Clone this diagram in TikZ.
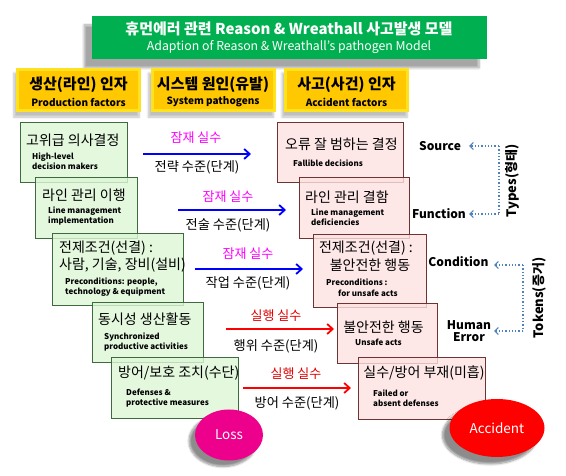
\documentclass[tikz,border=0pt]{standalone}
\usepackage{fontspec}
\setmainfont{Noto Sans CJK KR}
\usetikzlibrary{shadows.blur,arrows.meta,shapes.geometric}
\definecolor{titlegreen}{HTML}{00B050}
\definecolor{hdrgold}{HTML}{FFC800}
\definecolor{hdrrim}{HTML}{FFE21F}
\definecolor{gfill}{HTML}{DDF6D6}
\definecolor{gline}{HTML}{3F6A3F}
\definecolor{pfill}{HTML}{FDE1E1}
\definecolor{pline}{HTML}{6E3434}
\definecolor{dotblue}{HTML}{4F81BD}
\definecolor{latmag}{HTML}{FF00FF}
\definecolor{exred}{HTML}{E00000}
\newcommand\kfnt{\fontsize{14}{16}\selectfont}
\newcommand\smfnt{\fontsize{8}{9.5}\selectfont\bfseries}
\tikzset{
  gbox/.style={draw=gline, fill=gfill, fill opacity=0.8, line width=0.9pt, inner sep=0pt},
  pbox/.style={draw=pline, fill=pfill, fill opacity=0.8, line width=0.9pt, inner sep=0pt},
  hbox/.style={fill=hdrrim, inner sep=0pt, blur shadow={shadow xshift=-2pt, shadow yshift=-5pt, shadow blur steps=6, shadow opacity=25}},
  hcore/.style={fill=hdrgold, inner sep=0pt},
  txt/.style={inner sep=0pt, anchor=west},
  ctxt/.style={inner sep=0pt},
  blueArr/.style={draw=blue, line width=2.6pt, -{Straight Barb[length=5.5pt,width=10pt,line width=1.8pt]}},
  redArr/.style={draw=red, line width=2.6pt, -{Straight Barb[length=5.5pt,width=10pt,line width=1.8pt]}},
  dotArr/.style={draw=dotblue, line width=1.3pt, dotted, -{Straight Barb[length=3.5pt,width=7pt,line width=1.2pt]}},
  dotLine/.style={draw=dotblue, line width=1.3pt, dotted},
  lat/.style={ctxt, text=latmag, font=\fontsize{13}{15}\selectfont},
  exe/.style={ctxt, text=exred, font=\fontsize{13}{15}\selectfont},
  lvl/.style={ctxt, font=\fontsize{13.2}{15}\selectfont},
  rlab/.style={ctxt, font=\fontsize{12}{13}\selectfont\bfseries, align=center},
}
\begin{document}
\begin{tikzpicture}[x=1pt,y=-1pt]
\useasboundingbox (0,0) rectangle (566,476);

% title
\node[fill=titlegreen, minimum width=395pt, minimum height=43pt, inner sep=0pt,
  blur shadow={shadow xshift=-8pt, shadow yshift=-9pt, shadow blur steps=8, shadow opacity=35}] (title) at (289.5,37.5) {};
\node[ctxt, text=white, font=\fontsize{15}{17}\selectfont\bfseries] (t1) at (289,29) {휴먼에러 관련 Reason \& Wreathall 사고발생 모델};
\node[ctxt, text=white, font=\fontsize{12.3}{14}\selectfont] (t2) at (289,47) {Adaption of Reason \& Wreathall's pathogen Model};

% headers
\foreach \n/\cx/\ko/\en in {h1/78.5/생산(라인) 인자/Production factors, h2/213/시스템 원인(유발)/System pathogens, h3/346.5/사고(사건) 인자/Accident factors}{
  \node[hbox, minimum width=125pt, minimum height=44pt] (\n) at (\cx,90) {};
  \node[hcore, minimum width=119pt, minimum height=38pt] (\n c) at (\cx,90) {};
  \node[ctxt, font=\fontsize{15}{17}\selectfont\bfseries] (\n k) at (\cx,84.5) {\ko};
  \node[ctxt, font=\fontsize{10}{12}\selectfont\bfseries] (\n e) at (\cx,102) {\en};
}

% green boxes
\node[gbox, minimum width=107pt, minimum height=60pt] (g1) at (73.5,152) {};
\node[gbox, minimum width=102pt, minimum height=61pt] (g2) at (86,207.5) {};
\node[gbox, minimum width=131pt, minimum height=72pt] (g3) at (117.5,269) {};
\node[gbox, minimum width=111pt, minimum height=60pt] (g4) at (147.5,332) {};
\node[gbox, minimum width=127pt, minimum height=61pt] (g5) at (174.5,387.5) {};

\node[txt, font=\kfnt] (g1k) at (26,140) {고위급 의사결정};
\node[txt, font=\smfnt, align=left] (g1e) at (32,161) {High-level\\decision makers};
\node[txt, font=\kfnt] (g2k) at (42,195) {라인 관리 이행};
\node[txt, font=\smfnt, align=left] (g2e) at (48,216) {Line management\\implementation};
\node[txt, font=\kfnt] (g3k) at (59,248) {전제조건(선결) :};
\node[txt, font=\kfnt] (g3k2) at (59,265) {사람, 기술, 장비(설비)};
\node[txt, font=\smfnt, align=left] (g3e) at (65,287) {Preconditions: people,\\technology \& equipment};
\node[txt, font=\kfnt] (g4k) at (98,319) {동시성 생산활동};
\node[txt, font=\smfnt, align=left] (g4e) at (104,342) {Synchronized\\productive activities};
\node[txt, font=\kfnt] (g5k) at (118,373) {방어/보호 조치(수단)};
\node[txt, font=\smfnt, align=left] (g5e) at (126,398) {Defenses \&\\protective measures};

% pink boxes
\node[pbox, minimum width=126pt, minimum height=60pt] (p1) at (340,152) {};
\node[pbox, minimum width=110pt, minimum height=61pt] (p2) at (354,207.5) {};
\node[pbox, minimum width=113pt, minimum height=73pt] (p3) at (369.5,270.5) {};
\node[pbox, minimum width=100pt, minimum height=60pt] (p4) at (387,333) {};
\node[pbox, minimum width=127pt, minimum height=62pt] (p5) at (421.5,388) {};

\node[txt, font=\kfnt] (p1k) at (285,144) {오류 잘 범하는 결정};
\node[txt, font=\smfnt] (p1e) at (293,163) {Fallible decisions};
\node[txt, font=\kfnt] (p2k) at (305,197) {라인 관리 결함};
\node[txt, font=\smfnt, align=left] (p2e) at (311,217) {Line management\\deficiencies};
\node[ctxt, font=\kfnt] (p3k) at (366,248) {전제조건(선결) :};
\node[ctxt, font=\kfnt] (p3k2) at (370,265) {불안전한 행동};
\node[txt, font=\smfnt] (p3e) at (326,282) {Preconditions :};
\node[txt, font=\smfnt] (p3e2) at (338,293) {for unsafe acts};
\node[ctxt, font=\kfnt] (p4k) at (383.5,327) {불안전한 행동};
\node[txt, font=\smfnt] (p4e) at (355,342) {Unsafe acts};
\node[ctxt, font=\kfnt] (p5k) at (424,373) {실수/방어 부재(미흡)};
\node[txt, font=\smfnt, align=left] (p5e) at (373,398) {Failed or\\absent defenses};

% arrows
\coordinate (a1s) at (143,154); \coordinate (a1e) at (251,154);
\coordinate (a2s) at (178,210); \coordinate (a2e) at (286,210);
\coordinate (a3s) at (195,269); \coordinate (a3e) at (303,269);
\coordinate (a4s) at (226,329); \coordinate (a4e) at (334,329);
\coordinate (a5s) at (243,388); \coordinate (a5e) at (351,388);
\draw[blueArr] (a1s) -- (a1e);
\draw[blueArr] (a2s) -- (a2e);
\draw[blueArr] (a3s) -- (a3e);
\draw[redArr] (a4s) -- (a4e);
\draw[redArr] (a5s) -- (a5e);

\node[lat] (l1) at (196,138) {잠재 실수};
\node[lvl] (v1) at (197,167) {전략 수준(단계)};
\node[lat] (l2) at (228,197) {잠재 실수};
\node[lvl] (v2) at (228,225) {전술 수준(단계)};
\node[lat] (l3) at (248,254) {잠재 실수};
\node[lvl] (v3) at (248,283) {작업 수준(단계)};
\node[exe] (l4) at (276,316) {실행 실수};
\node[lvl] (v4) at (276,346) {행위 수준(단계)};
\node[exe] (l5) at (296,374) {실행 실수};
\node[lvl] (v5) at (297,403) {방어 수준(단계)};

% ellipses
\node[ellipse, fill=magenta, minimum width=68pt, minimum height=51pt, inner sep=0pt,
  text=white, font=\fontsize{13.5}{15}\selectfont,
  blur shadow={shadow xshift=-6pt, shadow yshift=-6pt, shadow blur steps=8, shadow opacity=45}] (loss) at (229,435) {Loss};
\node[ellipse, fill=red, minimum width=95pt, minimum height=58pt, inner sep=0pt,
  text=white, font=\fontsize{13.5}{15}\selectfont,
  blur shadow={shadow xshift=-7pt, shadow yshift=-7pt, shadow blur steps=8, shadow opacity=45}] (acc) at (497,428) {Accident};

% right labels
\node[rlab] (src) at (440,146) {Source};
\node[rlab] (fun) at (439,214) {Function};
\node[rlab] (cond) at (458.5,262) {Condition};
\node[rlab] (herr) at (469,331) {Human\\[-1pt]Error};

\coordinate (tyA) at (499,146); \coordinate (tyB) at (499,214);
\coordinate (tyAe) at (469,146); \coordinate (tyBe) at (469,214);
\draw[dotLine] (tyA) -- (tyB);
\draw[dotArr] (tyA) -- (tyAe);
\draw[dotArr] (tyB) -- (tyBe);
\coordinate (toA) at (523,265); \coordinate (toB) at (523,331);
\coordinate (toAe) at (494,265); \coordinate (toBe) at (494,331);
\draw[dotLine] (toA) -- (toB);
\draw[dotArr] (toA) -- (toAe);
\draw[dotArr] (toB) -- (toBe);

\node[ctxt, rotate=90, font=\fontsize{13}{15}\selectfont\bfseries] (types) at (512,181) {Types(형태)};
\node[ctxt, rotate=90, font=\fontsize{13}{15}\selectfont\bfseries] (tokens) at (539,298) {Tokens(증거)};
\end{tikzpicture}
\end{document}
